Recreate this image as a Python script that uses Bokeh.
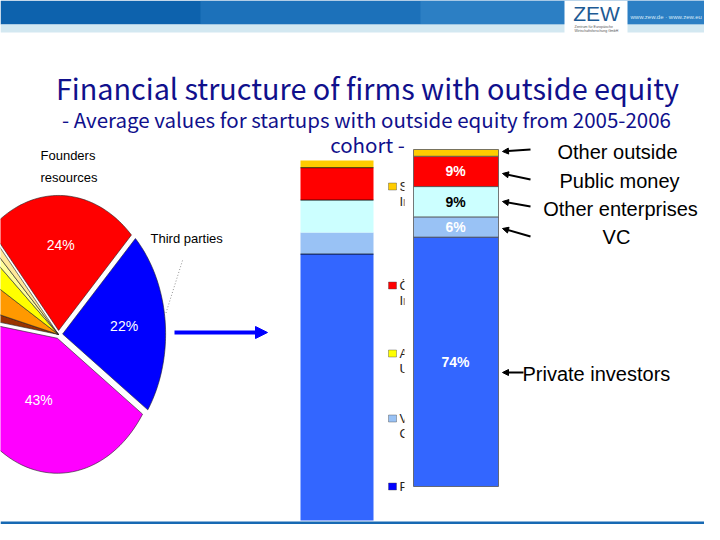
import numpy as np
from bokeh.plotting import figure
from bokeh.models import Range1d, Arrow, NormalHead
from bokeh.core.properties import value
from bokeh.embed import file_html
from bokeh.resources import INLINE

# ---------------- data ----------------
# pie (clockwise from the red slice)
pie_shares = [24, 22, 43, 1.5, 4.5, 3, 1, 1]
pie_colors = ["#ff0000", "#0000ff", "#ff00ff", "#993300", "#ff9900", "#ffff00", "#ffff99", "#ffe99a"]
pie_pct_text = ["24%", "22%", "43%", "", "", "", "", ""]
pie_explode = [0.03, 0.04, 0.03, 0, 0, 0, 0, 0]
pie_label_r = [0.66, 0.64, 0.52, 0, 0, 0, 0, 0]

# stacked bar (bottom to top)
bar_categories = ["Private investors", "VC", "Other enterprises", "Public money", "Other outside"]
bar_values = [74, 6, 9, 9, 2]
bar_colors = ["#3366ff", "#99c2f5", "#ccffff", "#ff0000", "#ffcc00"]
bar_label_colors = ["white", "white", "black", "white", None]

# ---------------- figure ----------------
W, H = 704, 524
p = figure(width=W, height=H, output_backend="svg", toolbar_location=None,
           x_range=Range1d(0, W), y_range=Range1d(H, 0),
           min_border=0, outline_line_color=None, background_fill_color="white")
p.axis.visible = False
p.grid.visible = False


def lin_x(v0, px0, v1, px1):
    k = (px1 - px0) / (v1 - v0)
    s = v0 - px0 / k
    return Range1d(s, s + W / k)


def lin_y(v0, py0, v1, py1):
    k = (py0 - py1) / (v1 - v0)
    s = v0 - (H - py0) / k
    return Range1d(s, s + H / k)


p.extra_x_ranges = {"pie_x": lin_x(0, 58, 1, 58 + 103)}
p.extra_y_ranges = {"pie_y": lin_y(0, 334, 1, 334 - 135),
                    "rbar": lin_y(0, 486, 100, 149),
                    "lbar": lin_y(0, 520, 100, 160)}

# ---------------- banner ----------------
p.quad(left=0, right=W, top=0, bottom=24, fill_color="#0d62ad", line_color=None)
p.quad(left=200, right=W, top=0, bottom=24, fill_color="#2f86c9", fill_alpha=0.45, line_color=None)
p.quad(left=420, right=W, top=0, bottom=24, fill_color="#4a9ad6", fill_alpha=0.35, line_color=None)
p.quad(left=0, right=W, top=24, bottom=32, fill_color="#d3e8f1", line_color=None)
p.quad(left=564, right=627, top=0, bottom=34, fill_color="white", line_color=None)
p.text(x=[596], y=[13], text=["ZEW"], text_font=value("Liberation Sans"), text_font_size="21px",
       text_color="#1d5a94", text_align="center", text_baseline="middle")
p.text(x=[574, 574], y=[26, 30], text=["Zentrum für Europäische", "Wirtschaftsforschung GmbH"],
       text_font=value("Liberation Sans"), text_font_size="3.5px", text_color="#555555",
       text_align="left", text_baseline="middle")
p.text(x=[630], y=[16], text=["www.zew.de · www.zew.eu"], text_font=value("Liberation Sans"),
       text_font_size="6px", text_color="#d5e9f7", text_align="left", text_baseline="middle")
p.quad(left=0, right=W, top=521, bottom=H, fill_color="#1769b3", line_color=None)

# ---------------- titles ----------------
title_font = value("Noto Sans CJK JP")
p.text(x=[367], y=[87], text=["Financial structure of firms with outside equity"],
       text_font=title_font, text_font_size="28.8px", text_color="#10108c",
       text_align="center", text_baseline="middle")
p.text(x=[366], y=[118], text=["- Average values for startups with outside equity from 2005-2006"],
       text_font=title_font, text_font_size="20.5px", text_color="#10108c",
       text_align="center", text_baseline="middle")
p.text(x=[367], y=[143], text=["cohort -"],
       text_font=title_font, text_font_size="20.5px", text_color="#10108c",
       text_align="center", text_baseline="middle")

# ---------------- pie ----------------
start = 45 + pie_shares[0] * 3.6
xs, ys, lx, ly = [], [], [], []
a = start
for share, ex, lr in zip(pie_shares, pie_explode, pie_label_r):
    a1 = a - share * 3.6
    mid = np.radians((a + a1) / 2)
    ox, oy = ex * np.cos(mid), ex * np.sin(mid)
    t = np.radians(np.linspace(a, a1, 60))
    xs.append(list(np.concatenate([[ox], ox + np.cos(t), [ox]])))
    ys.append(list(np.concatenate([[oy], oy + np.sin(t), [oy]])))
    lx.append(lr * np.cos(mid))
    ly.append(lr * np.sin(mid))
    a = a1
p.patches(xs=xs, ys=ys, fill_color=pie_colors, line_color="#222222", line_width=0.6,
          x_range_name="pie_x", y_range_name="pie_y")
narrow = value("'Liberation Sans Narrow', 'Liberation Sans'")
p.text(x=lx[:3], y=ly[:3], text=pie_pct_text[:3], x_range_name="pie_x", y_range_name="pie_y",
       text_font=narrow, text_font_size="14px",
       text_color="white", text_align="center", text_baseline="middle")

p.text(x=[40, 40], y=[155, 177], text=["Founders", "resources"],
       text_font=narrow, text_font_size="13px",
       text_color="black", text_align="left", text_baseline="middle")
p.text(x=[150], y=[238], text=["Third parties"],
       text_font=narrow, text_font_size="13px",
       text_color="black", text_align="left", text_baseline="middle")
p.segment(x0=[182], y0=[260], x1=[165], y1=[314], line_color="#777777", line_width=0.8, line_dash="1 2")

p.add_layout(Arrow(end=NormalHead(size=12, fill_color="#0000ff", line_color="#0000ff"),
                   x_start=174, y_start=332, x_end=267, y_end=332,
                   line_color="#0000ff", line_width=4))

# ---------------- left (background) stacked bar ----------------
cum = np.cumsum([0] + bar_values)
p.vbar(x=336.5, width=73, bottom=cum[:-1], top=cum[1:], fill_color=bar_colors,
       line_color=None, y_range_name="lbar")
p.segment(x0=[300] * 3, x1=[373] * 3, y0=[cum[1], cum[3], cum[4]], y1=[cum[1], cum[3], cum[4]],
          line_color="black", line_width=0.8, y_range_name="lbar")

# legend squares of the background chart (mostly covered)
leg_y = [186, 285, 353, 418, 486]
leg_colors = ["#ffcc00", "#ff0000", "#ffff00", "#99c2f5", "#0000ff"]
p.rect(x=[392] * 5, y=leg_y, width=8, height=7, fill_color=leg_colors, line_color="#444444", line_width=0.4)
p.text(x=[399] * 9, y=[186, 201, 285, 300, 353, 368, 418, 433, 486],
       text=["S", "In", "Ö", "In", "A", "U", "V", "G", "P"],
       text_font=value("Liberation Sans"), text_font_size="13px", text_color="#222222",
       text_align="left", text_baseline="middle")

# white panel covering it
p.quad(left=404, right=503, top=146, bottom=494, fill_color="white", line_color=None)

# ---------------- right stacked bar ----------------
p.vbar(x=455.5, width=85, bottom=cum[:-1], top=cum[1:], fill_color=bar_colors,
       line_color="#555555", line_width=0.8, y_range_name="rbar")
mids = (cum[:-1] + cum[1:]) / 2
lab_idx = [i for i, c in enumerate(bar_label_colors) if c]
p.text(x=[455] * len(lab_idx), y=[mids[i] for i in lab_idx],
       text=[f"{bar_values[i]}%" for i in lab_idx],
       text_color=[bar_label_colors[i] for i in lab_idx], y_range_name="rbar",
       text_font=value("Liberation Sans"), text_font_style="bold", text_font_size="14px",
       text_align="center", text_baseline="middle")

# ---------------- arrows & labels ----------------
arr = [(530, 149, 502, 151), (530, 179, 502, 173), (530, 206, 502, 201),
       (530, 236, 502, 228), (523, 372, 502, 372)]
for x0, y0, x1, y1 in arr:
    p.add_layout(Arrow(end=NormalHead(size=6, fill_color="black", line_color="black"),
                       x_start=x0, y_start=y0, x_end=x1, y_end=y1,
                       line_color="black", line_width=2))

lab_font = value("Liberation Sans")
p.text(x=[617, 619, 620, 616], y=[151, 180, 208, 236],
       text=["Other outside", "Public money", "Other enterprises", "VC"],
       text_font=lab_font, text_font_size="20px", text_color="black",
       text_align="center", text_baseline="middle")
p.text(x=[522], y=[373], text=["Private investors"],
       text_font=lab_font, text_font_size="20px", text_color="black",
       text_align="left", text_baseline="middle")

open("out.html", "w").write(file_html(p, INLINE))
